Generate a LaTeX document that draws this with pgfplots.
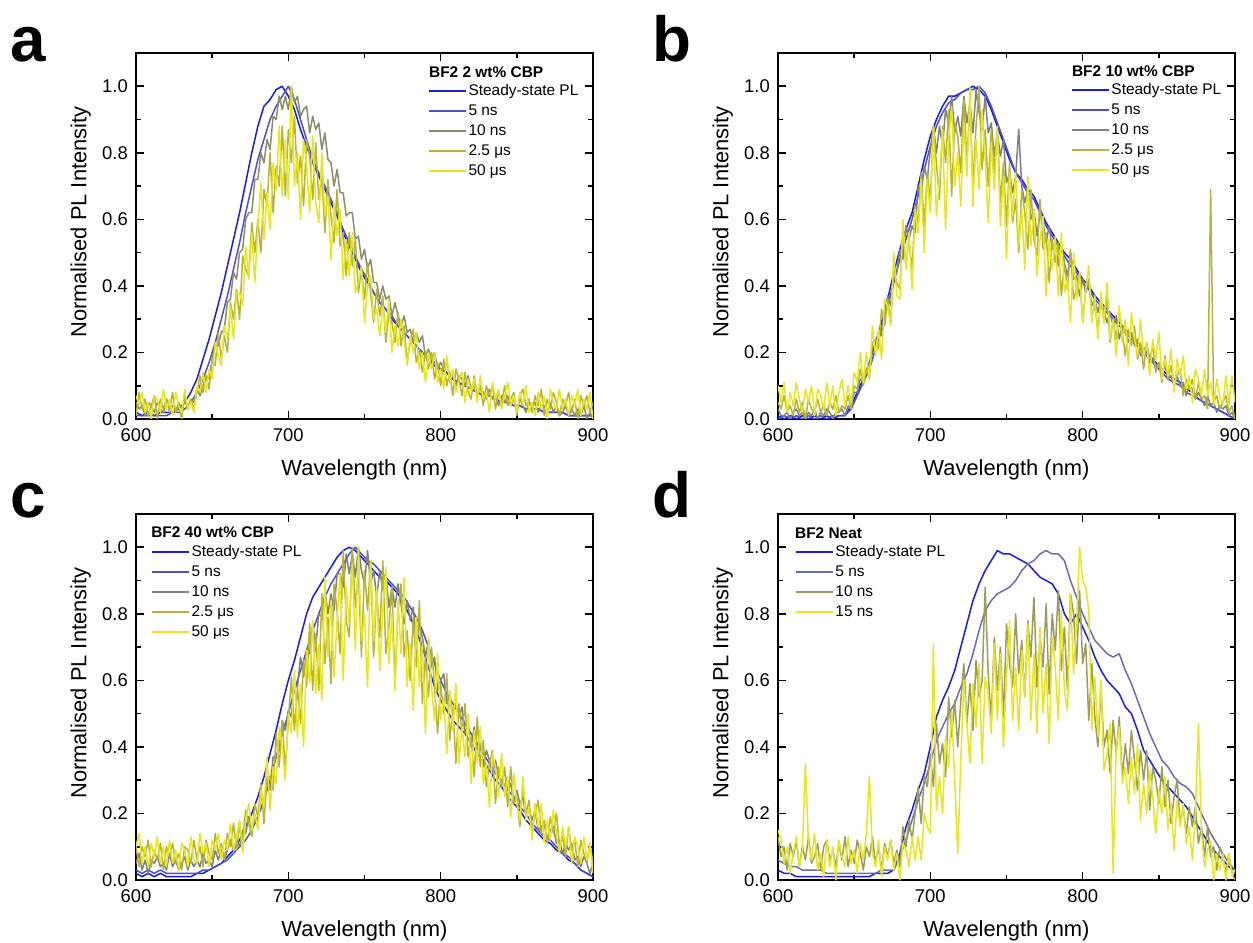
\documentclass[border=0pt]{standalone}
\usepackage{fontspec}
\setmainfont{Liberation Sans}
\usepackage{pgfplots}
\usepackage{pgfplotstable}
\pgfplotsset{compat=1.18}

\definecolor{cSS}{RGB}{25,25,240}
\definecolor{cNfive}{RGB}{78,78,205}
\definecolor{cNfiveD}{RGB}{108,108,172}
\definecolor{cTenA}{RGB}{140,140,108}
\definecolor{cTenB}{RGB}{128,128,128}
\definecolor{cTenD}{RGB}{155,155,98}
\definecolor{cUtwo}{RGB}{182,178,62}
\definecolor{cUfifty}{RGB}{232,230,30}

% ===== Panel a: smooth series =====
\pgfplotstableread{
x ss n5
600 0.02 0.01
604 0.01 0.01
608 0.02 0.01
612 0.01 0.01
616 0.02 0.01
620 0.02 0.01
624 0.02 0.02
628 0.03 0.02
632 0.05 0.03
636 0.08 0.05
640 0.12 0.08
644 0.18 0.12
648 0.24 0.17
652 0.31 0.23
656 0.38 0.30
660 0.46 0.37
664 0.54 0.45
668 0.62 0.53
672 0.71 0.62
676 0.80 0.70
680 0.88 0.78
684 0.94 0.84
688 0.96 0.90
692 0.99 0.94
696 1.00 0.97
700 0.97 1.00
704 0.93 0.96
708 0.87 0.90
712 0.82 0.84
716 0.77 0.78
720 0.73 0.74
724 0.69 0.70
728 0.65 0.66
732 0.61 0.62
736 0.56 0.57
740 0.52 0.53
744 0.48 0.49
748 0.44 0.45
752 0.41 0.42
756 0.38 0.38
760 0.35 0.35
764 0.33 0.33
768 0.30 0.31
772 0.28 0.28
776 0.26 0.26
780 0.24 0.24
784 0.22 0.22
788 0.20 0.20
792 0.18 0.18
796 0.16 0.17
800 0.15 0.15
804 0.14 0.14
808 0.12 0.12
812 0.11 0.11
816 0.10 0.10
820 0.09 0.09
824 0.08 0.08
828 0.07 0.07
832 0.07 0.07
836 0.06 0.06
840 0.05 0.05
844 0.05 0.05
848 0.04 0.04
852 0.04 0.04
856 0.03 0.03
860 0.03 0.03
864 0.03 0.03
868 0.02 0.02
872 0.02 0.02
876 0.02 0.02
880 0.02 0.02
884 0.01 0.01
888 0.01 0.01
892 0.01 0.01
896 0.01 0.01
900 0.01 0.01
}\smoothA

% ===== Panel a: noisy series =====
\pgfplotstableread{
x n10 u25 u50
600 0.05 0.01 0.07
602 0.03 0.08 0.04
604 0.04 0.03 0.08
606 0.01 0.06 0.02
608 0.05 0.01 0.05
610 0.04 0.04 0.00
612 0.02 0.07 0.07
614 0.05 0.00 0.06
616 0.03 0.06 0.02
618 0.02 0.03 0.09
620 0.06 0.06 0.03
622 0.03 0.02 0.06
624 0.04 0.08 0.01
626 0.02 0.02 0.08
628 0.05 0.04 0.04
630 0.03 0.00 0.02
632 0.06 0.07 0.09
634 0.03 0.03 0.03
636 0.06 0.06 0.05
638 0.05 0.03 0.02
640 0.09 0.08 0.10
642 0.07 0.13 0.08
644 0.10 0.08 0.14
646 0.13 0.13 0.08
648 0.12 0.09 0.15
650 0.18 0.18 0.12
652 0.22 0.16 0.23
654 0.22 0.26 0.19
656 0.26 0.18 0.16
658 0.27 0.25 0.28
660 0.35 0.20 0.24
662 0.36 0.35 0.34
664 0.44 0.30 0.24
666 0.42 0.39 0.38
668 0.50 0.30 0.38
670 0.51 0.49 0.34
672 0.60 0.45 0.52
674 0.62 0.43 0.42
676 0.62 0.59 0.56
678 0.72 0.50 0.41
680 0.72 0.60 0.58
682 0.80 0.50 0.71
684 0.77 0.69 0.54
686 0.84 0.64 0.68
688 0.81 0.80 0.57
690 0.91 0.62 0.77
692 0.90 0.76 0.69
694 0.97 0.70 0.88
696 0.93 0.88 0.67
698 0.97 0.67 0.84
700 0.93 0.87 0.66
702 1.00 0.77 1.00
704 0.95 0.91 0.70
706 0.97 0.71 0.80
708 0.91 0.79 0.60
710 0.93 0.64 0.84
712 0.94 0.84 0.76
714 0.86 0.79 0.62
716 0.91 0.66 0.85
718 0.87 0.83 0.65
720 0.89 0.66 0.59
722 0.81 0.73 0.80
724 0.86 0.56 0.61
726 0.78 0.72 0.67
728 0.77 0.61 0.48
730 0.70 0.53 0.65
732 0.75 0.69 0.55
734 0.68 0.52 0.63
736 0.68 0.56 0.42
738 0.61 0.43 0.54
740 0.62 0.56 0.43
742 0.62 0.46 0.56
744 0.54 0.54 0.38
746 0.55 0.38 0.41
748 0.48 0.45 0.46
750 0.51 0.36 0.29
752 0.45 0.47 0.40
754 0.48 0.38 0.43
756 0.41 0.29 0.30
758 0.41 0.39 0.33
760 0.36 0.31 0.25
762 0.40 0.37 0.34
764 0.36 0.23 0.26
766 0.37 0.32 0.36
768 0.31 0.29 0.20
770 0.35 0.23 0.28
772 0.31 0.32 0.22
774 0.28 0.22 0.30
776 0.31 0.28 0.24
778 0.26 0.17 0.16
780 0.27 0.23 0.25
782 0.23 0.27 0.20
784 0.26 0.17 0.26
786 0.23 0.21 0.15
788 0.25 0.14 0.20
790 0.19 0.20 0.11
792 0.21 0.15 0.20
794 0.18 0.20 0.15
796 0.20 0.12 0.20
798 0.15 0.17 0.11
800 0.17 0.10 0.15
802 0.15 0.18 0.09
804 0.17 0.10 0.19
806 0.13 0.14 0.11
808 0.13 0.07 0.15
810 0.10 0.15 0.08
812 0.13 0.12 0.12
814 0.12 0.07 0.14
816 0.10 0.14 0.05
818 0.13 0.08 0.12
820 0.09 0.06 0.08
822 0.10 0.13 0.12
824 0.07 0.07 0.05
826 0.10 0.10 0.13
828 0.08 0.04 0.06
830 0.06 0.10 0.08
832 0.09 0.07 0.02
834 0.06 0.10 0.11
836 0.07 0.03 0.06
838 0.04 0.08 0.09
840 0.07 0.05 0.03
842 0.05 0.10 0.07
844 0.07 0.04 0.11
846 0.04 0.06 0.04
848 0.06 0.08 0.07
850 0.03 0.01 0.02
852 0.06 0.07 0.08
854 0.04 0.09 0.04
856 0.02 0.04 0.10
858 0.05 0.06 0.02
860 0.03 0.02 0.05
862 0.05 0.07 0.01
864 0.02 0.04 0.08
866 0.04 0.09 0.03
868 0.04 0.01 0.07
870 0.02 0.06 0.00
872 0.05 0.03 0.09
874 0.02 0.08 0.05
876 0.04 0.05 0.03
878 0.01 0.01 0.09
880 0.02 0.06 0.03
882 0.04 0.04 0.06
884 0.01 0.08 0.01
886 0.03 0.02 0.07
888 0.01 0.06 0.04
890 0.03 0.00 0.09
892 0.01 0.07 0.01
894 0.04 0.04 0.06
896 0.00 0.07 0.03
898 0.02 0.02 0.08
900 0.00 0.05 0.00
}\noisyA

% ===== Panel b: smooth series =====
\pgfplotstableread{
x ss n5
600 0.01 0.00
604 0.00 0.01
608 0.01 0.00
612 0.00 0.01
616 0.01 0.00
620 0.00 0.01
624 0.01 0.00
628 0.00 0.01
632 0.01 0.00
636 0.00 0.01
640 0.01 0.01
644 0.01 0.01
648 0.04 0.03
652 0.08 0.07
656 0.12 0.11
660 0.17 0.15
664 0.23 0.21
668 0.29 0.27
672 0.36 0.34
676 0.44 0.41
680 0.51 0.48
684 0.57 0.54
688 0.62 0.60
692 0.70 0.67
696 0.78 0.75
700 0.85 0.82
704 0.90 0.88
708 0.94 0.92
712 0.97 0.95
716 0.97 0.96
720 0.98 0.98
724 0.99 0.99
728 1.00 0.99
732 0.99 1.00
736 0.97 0.98
740 0.93 0.94
744 0.88 0.89
748 0.83 0.84
752 0.78 0.79
756 0.74 0.74
760 0.72 0.71
764 0.69 0.68
768 0.67 0.66
772 0.63 0.62
776 0.59 0.58
780 0.56 0.55
784 0.53 0.52
788 0.50 0.49
792 0.48 0.46
796 0.45 0.44
800 0.42 0.41
804 0.40 0.39
808 0.37 0.36
812 0.35 0.34
816 0.33 0.32
820 0.31 0.30
824 0.29 0.28
828 0.27 0.26
832 0.25 0.24
836 0.23 0.22
840 0.21 0.20
844 0.19 0.18
848 0.17 0.16
852 0.15 0.14
856 0.13 0.12
860 0.12 0.11
864 0.11 0.10
868 0.09 0.08
872 0.08 0.07
876 0.06 0.06
880 0.05 0.05
884 0.04 0.04
888 0.03 0.03
892 0.02 0.02
896 0.01 0.01
900 0.00 0.00
}\smoothB

% ===== Panel b: noisy series =====
\pgfplotstableread{
x n10 u25 u50
600 0.03 0.05 0.10
602 0.01 0.03 0.05
604 0.01 0.07 0.11
606 0.02 0.02 0.02
608 0.00 0.04 0.08
610 0.02 0.01 0.04
612 0.03 0.06 0.11
614 0.01 0.02 0.06
616 0.02 0.05 0.02
618 0.00 0.00 0.09
620 0.02 0.06 0.05
622 0.01 0.03 0.10
624 0.03 0.02 0.01
626 0.00 0.06 0.09
628 0.02 0.02 0.07
630 0.01 0.04 0.03
632 0.03 0.01 0.11
634 0.02 0.05 0.04
636 0.00 0.03 0.10
638 0.02 0.07 0.01
640 0.02 0.02 0.08
642 0.03 0.04 0.12
644 0.01 0.03 0.04
646 0.04 0.07 0.10
648 0.03 0.03 0.05
650 0.08 0.10 0.14
652 0.08 0.09 0.11
654 0.12 0.15 0.20
656 0.11 0.10 0.11
658 0.15 0.15 0.20
660 0.15 0.12 0.12
662 0.22 0.23 0.28
664 0.21 0.24 0.19
666 0.26 0.21 0.27
668 0.25 0.33 0.18
670 0.31 0.28 0.36
672 0.37 0.36 0.34
674 0.34 0.29 0.28
676 0.43 0.45 0.50
678 0.44 0.41 0.37
680 0.51 0.39 0.36
682 0.48 0.57 0.60
684 0.58 0.46 0.45
686 0.54 0.54 0.56
688 0.58 0.44 0.39
690 0.56 0.64 0.63
692 0.70 0.58 0.56
694 0.67 0.74 0.72
696 0.76 0.58 0.50
698 0.72 0.74 0.72
700 0.81 0.66 0.62
702 0.88 0.88 0.88
704 0.80 0.77 0.61
706 0.88 0.66 0.72
708 0.82 0.88 0.87
710 0.93 0.77 0.57
712 0.89 0.93 0.84
714 0.97 0.67 0.94
716 0.86 0.89 0.70
718 0.91 0.85 0.80
720 0.85 0.74 0.64
722 0.97 0.96 0.89
724 0.89 0.78 0.73
726 0.95 0.94 1.00
728 0.86 0.71 0.64
730 0.99 0.88 0.84
732 0.92 1.00 0.69
734 0.87 0.75 0.93
736 0.97 0.87 0.78
738 0.86 0.70 0.59
740 0.89 0.87 0.83
742 0.79 0.74 0.69
744 0.86 0.88 0.88
746 0.79 0.65 0.58
748 0.84 0.77 0.73
750 0.71 0.58 0.48
752 0.74 0.77 0.74
754 0.68 0.59 0.61
756 0.73 0.66 0.74
758 0.87 0.50 0.52
760 0.70 0.69 0.63
762 0.65 0.62 0.45
764 0.69 0.51 0.73
766 0.60 0.69 0.52
768 0.63 0.54 0.63
770 0.55 0.49 0.43
772 0.62 0.66 0.54
774 0.59 0.51 0.61
776 0.53 0.56 0.37
778 0.58 0.41 0.54
780 0.51 0.54 0.45
782 0.53 0.47 0.55
784 0.46 0.53 0.37
786 0.52 0.37 0.56
788 0.47 0.47 0.38
790 0.43 0.39 0.42
792 0.50 0.51 0.29
794 0.42 0.36 0.50
796 0.43 0.39 0.36
798 0.37 0.44 0.44
800 0.42 0.29 0.29
802 0.38 0.39 0.39
804 0.41 0.42 0.46
806 0.34 0.31 0.29
808 0.36 0.34 0.37
810 0.32 0.27 0.24
812 0.36 0.36 0.38
814 0.32 0.29 0.29
816 0.29 0.37 0.41
818 0.32 0.23 0.24
820 0.28 0.30 0.30
822 0.31 0.24 0.19
824 0.24 0.32 0.34
826 0.28 0.26 0.23
828 0.26 0.19 0.30
830 0.23 0.27 0.16
832 0.26 0.22 0.32
834 0.22 0.28 0.24
836 0.24 0.18 0.19
838 0.19 0.23 0.30
840 0.21 0.15 0.19
842 0.22 0.23 0.23
844 0.17 0.18 0.13
846 0.18 0.22 0.24
848 0.15 0.14 0.18
850 0.17 0.17 0.26
852 0.14 0.11 0.12
854 0.16 0.19 0.18
856 0.12 0.12 0.13
858 0.13 0.16 0.21
860 0.10 0.10 0.08
862 0.13 0.13 0.18
864 0.10 0.15 0.13
866 0.11 0.07 0.19
868 0.07 0.12 0.09
870 0.10 0.09 0.13
872 0.09 0.12 0.05
874 0.06 0.06 0.15
876 0.08 0.11 0.12
878 0.06 0.06 0.07
880 0.04 0.07 0.15
882 0.07 0.03 0.07
884 0.04 0.69 0.11
886 0.05 0.05 0.04
888 0.02 0.07 0.12
890 0.04 0.03 0.07
892 0.03 0.05 0.04
894 0.04 0.07 0.13
896 0.01 0.02 0.04
898 0.02 0.04 0.13
900 0.00 0.00 0.05
}\noisyB

% ===== Panel c: smooth series =====
\pgfplotstableread{
x ss n5
600 0.02 0.03
604 0.01 0.02
608 0.02 0.03
612 0.01 0.02
616 0.02 0.03
620 0.01 0.02
624 0.01 0.02
628 0.01 0.02
632 0.01 0.02
636 0.01 0.02
640 0.02 0.02
644 0.02 0.03
648 0.03 0.03
652 0.04 0.04
656 0.05 0.05
660 0.07 0.06
664 0.09 0.08
668 0.12 0.10
672 0.16 0.12
676 0.20 0.15
680 0.25 0.19
684 0.31 0.24
688 0.38 0.30
692 0.45 0.37
696 0.53 0.44
700 0.60 0.50
704 0.66 0.57
708 0.73 0.63
712 0.80 0.69
716 0.85 0.75
720 0.88 0.80
724 0.91 0.85
728 0.94 0.89
732 0.97 0.92
736 0.99 0.95
740 1.00 0.98
744 0.99 1.00
748 0.97 0.98
752 0.95 0.96
756 0.93 0.95
760 0.91 0.93
764 0.90 0.91
768 0.88 0.89
772 0.86 0.87
776 0.83 0.85
780 0.79 0.82
784 0.75 0.79
788 0.70 0.75
792 0.64 0.70
796 0.58 0.65
800 0.54 0.60
804 0.51 0.56
808 0.48 0.53
812 0.46 0.50
816 0.44 0.47
820 0.41 0.44
824 0.38 0.41
828 0.36 0.38
832 0.33 0.35
836 0.30 0.32
840 0.28 0.30
844 0.25 0.27
848 0.23 0.25
852 0.21 0.22
856 0.18 0.20
860 0.16 0.17
864 0.14 0.15
868 0.12 0.13
872 0.11 0.12
876 0.09 0.10
880 0.08 0.08
884 0.06 0.07
888 0.05 0.05
892 0.03 0.03
896 0.02 0.02
900 0.01 0.01
}\smoothC

% ===== Panel c: noisy series =====
\pgfplotstableread{
x n10 u25 u50
600 0.05 0.10 0.10
602 0.08 0.04 0.14
604 0.03 0.10 0.05
606 0.06 0.07 0.10
608 0.02 0.12 0.04
610 0.06 0.04 0.11
612 0.05 0.09 0.07
614 0.07 0.06 0.13
616 0.04 0.11 0.05
618 0.05 0.03 0.10
620 0.03 0.10 0.04
622 0.08 0.07 0.12
624 0.04 0.11 0.05
626 0.06 0.05 0.09
628 0.03 0.08 0.03
630 0.05 0.03 0.11
632 0.07 0.10 0.09
634 0.03 0.09 0.04
636 0.06 0.05 0.13
638 0.04 0.12 0.06
640 0.06 0.06 0.05
642 0.04 0.10 0.14
644 0.08 0.04 0.08
646 0.05 0.12 0.11
648 0.06 0.08 0.04
650 0.04 0.06 0.12
652 0.09 0.14 0.09
654 0.06 0.08 0.14
656 0.09 0.11 0.06
658 0.06 0.06 0.12
660 0.09 0.14 0.09
662 0.12 0.10 0.17
664 0.09 0.17 0.09
666 0.12 0.09 0.13
668 0.10 0.16 0.18
670 0.15 0.12 0.08
672 0.14 0.21 0.18
674 0.19 0.17 0.23
676 0.15 0.13 0.15
678 0.19 0.23 0.20
680 0.18 0.19 0.15
682 0.25 0.29 0.27
684 0.24 0.17 0.22
686 0.30 0.31 0.37
688 0.27 0.31 0.21
690 0.37 0.27 0.34
692 0.37 0.44 0.29
694 0.39 0.34 0.46
696 0.48 0.48 0.40
698 0.45 0.33 0.30
700 0.51 0.48 0.50
702 0.49 0.61 0.44
704 0.59 0.45 0.63
706 0.58 0.58 0.43
708 0.67 0.47 0.59
710 0.61 0.66 0.40
712 0.68 0.58 0.69
714 0.68 0.77 0.59
716 0.77 0.57 0.78
718 0.70 0.74 0.56
720 0.80 0.57 0.71
722 0.79 0.86 0.54
724 0.87 0.65 0.91
726 0.80 0.79 0.67
728 0.86 0.59 0.84
730 0.81 0.89 0.61
732 0.92 0.81 0.78
734 0.92 0.68 0.92
736 0.88 0.99 0.60
738 0.98 0.78 0.88
740 0.92 0.73 0.77
742 0.98 1.00 0.95
744 0.91 0.82 0.69
746 1.00 0.93 1.00
748 0.93 0.67 0.72
750 0.89 0.93 0.80
752 0.99 0.81 0.58
754 0.89 0.96 0.96
756 0.93 0.67 0.72
758 0.85 0.87 0.88
760 0.93 0.73 0.63
762 0.87 0.96 0.81
764 0.92 0.68 0.94
766 0.82 0.76 0.65
768 0.88 0.88 0.80
770 0.82 0.59 0.57
772 0.89 0.81 0.84
774 0.83 0.89 0.68
776 0.77 0.67 0.91
778 0.84 0.75 0.58
780 0.78 0.60 0.71
782 0.82 0.79 0.51
784 0.71 0.64 0.79
786 0.77 0.84 0.58
788 0.73 0.53 0.71
790 0.67 0.67 0.44
792 0.72 0.55 0.73
794 0.64 0.70 0.58
796 0.67 0.58 0.48
798 0.57 0.44 0.68
800 0.60 0.59 0.48
802 0.62 0.50 0.55
804 0.53 0.62 0.38
806 0.55 0.42 0.57
808 0.49 0.52 0.45
810 0.53 0.35 0.59
812 0.49 0.53 0.35
814 0.52 0.44 0.46
816 0.44 0.53 0.37
818 0.47 0.37 0.50
820 0.40 0.43 0.29
822 0.46 0.31 0.45
824 0.39 0.49 0.35
826 0.41 0.34 0.46
828 0.34 0.42 0.29
830 0.39 0.28 0.35
832 0.36 0.35 0.22
834 0.32 0.39 0.38
836 0.36 0.23 0.34
838 0.31 0.34 0.25
840 0.29 0.28 0.38
842 0.33 0.34 0.25
844 0.27 0.22 0.31
846 0.29 0.34 0.19
848 0.23 0.23 0.32
850 0.27 0.25 0.23
852 0.23 0.16 0.18
854 0.25 0.29 0.31
856 0.19 0.20 0.18
858 0.21 0.24 0.22
860 0.18 0.15 0.12
862 0.21 0.20 0.23
864 0.15 0.24 0.16
866 0.16 0.14 0.23
868 0.17 0.18 0.11
870 0.12 0.11 0.18
872 0.15 0.19 0.12
874 0.16 0.14 0.21
876 0.11 0.20 0.14
878 0.12 0.10 0.08
880 0.08 0.13 0.16
882 0.11 0.07 0.10
884 0.09 0.16 0.16
886 0.11 0.09 0.05
888 0.06 0.12 0.13
890 0.07 0.04 0.10
892 0.04 0.12 0.05
894 0.07 0.08 0.13
896 0.05 0.05 0.06
898 0.02 0.11 0.11
900 0.05 0.05 0.02
}\noisyC

% ===== Panel d: smooth series =====
\pgfplotstableread{
x ss n5
600 0.03 0.06
604 0.02 0.05
608 0.02 0.04
612 0.01 0.04
616 0.01 0.03
620 0.01 0.03
624 0.01 0.03
628 0.01 0.03
632 0.01 0.02
636 0.01 0.02
640 0.01 0.02
644 0.01 0.02
648 0.01 0.02
652 0.01 0.02
656 0.01 0.02
660 0.01 0.02
664 0.02 0.02
668 0.02 0.03
672 0.02 0.03
676 0.03 0.03
680 0.08 0.07
684 0.16 0.12
688 0.21 0.18
692 0.27 0.24
696 0.32 0.29
700 0.40 0.35
704 0.49 0.42
708 0.54 0.46
712 0.58 0.50
716 0.63 0.53
720 0.70 0.58
724 0.77 0.62
728 0.84 0.68
732 0.89 0.75
736 0.93 0.81
740 0.96 0.84
744 0.99 0.86
748 0.98 0.87
752 0.98 0.88
756 0.97 0.90
760 0.96 0.93
764 0.95 0.95
768 0.93 0.96
772 0.91 0.98
776 0.90 0.99
780 0.89 0.98
784 0.86 0.98
788 0.80 0.96
792 0.77 0.90
796 0.80 0.85
800 0.76 0.80
804 0.72 0.76
808 0.67 0.72
812 0.63 0.70
816 0.60 0.68
820 0.58 0.67
824 0.56 0.68
828 0.52 0.63
832 0.50 0.59
836 0.45 0.54
840 0.39 0.49
844 0.36 0.44
848 0.33 0.40
852 0.30 0.36
856 0.28 0.34
860 0.26 0.31
864 0.24 0.29
868 0.22 0.28
872 0.19 0.26
876 0.16 0.22
880 0.13 0.18
884 0.10 0.14
888 0.08 0.11
892 0.06 0.08
896 0.04 0.05
900 0.03 0.03
}\smoothD

% ===== Panel d: noisy series =====
\pgfplotstableread{
x n10 u15
600 0.13 0.15
602 0.07 0.12
604 0.10 0.05
606 0.03 0.10
608 0.11 0.02
610 0.07 0.08
612 0.12 0.13
614 0.04 0.04
616 0.10 0.09
618 0.06 0.35
620 0.13 0.11
622 0.05 0.06
624 0.07 0.14
626 0.11 0.03
628 0.03 0.08
630 0.10 0.01
632 0.12 0.12
634 0.06 0.04
636 0.09 0.10
638 0.04 0.00
640 0.11 0.12
642 0.06 0.07
644 0.13 0.04
646 0.04 0.13
648 0.09 0.05
650 0.05 0.09
652 0.12 0.02
654 0.08 0.11
656 0.03 0.06
658 0.10 0.14
660 0.07 0.31
662 0.13 0.08
664 0.05 0.04
666 0.10 0.12
668 0.03 0.01
670 0.11 0.10
672 0.07 0.06
674 0.12 0.12
676 0.05 0.03
678 0.09 0.08
680 0.04 0.00
682 0.16 0.11
684 0.10 0.09
686 0.18 0.04
688 0.12 0.13
690 0.20 0.06
692 0.28 0.13
694 0.17 0.06
696 0.31 0.20
698 0.28 0.16
700 0.38 0.14
702 0.28 0.71
704 0.47 0.21
706 0.35 0.31
708 0.41 0.20
710 0.31 0.43
712 0.55 0.34
714 0.43 0.51
716 0.54 0.30
718 0.40 0.08
720 0.54 0.36
722 0.65 0.60
724 0.47 0.47
726 0.59 0.35
728 0.45 0.59
730 0.66 0.46
732 0.55 0.65
734 0.60 0.35
736 0.88 0.61
738 0.62 0.56
740 0.48 0.44
742 0.73 0.71
744 0.57 0.48
746 0.70 0.68
748 0.49 0.40
750 0.77 0.61
752 0.65 0.78
754 0.58 0.48
756 0.80 0.64
758 0.62 0.45
760 0.72 0.69
762 0.55 0.55
764 0.78 0.77
766 0.67 0.48
768 0.85 0.68
770 0.58 0.44
772 0.73 0.76
774 0.64 0.50
776 0.83 0.65
778 0.56 0.41
780 0.80 0.73
782 0.69 0.64
784 0.87 0.48
786 0.63 0.81
788 0.76 0.57
790 0.57 0.51
792 0.86 0.86
794 0.80 0.62
796 0.65 0.77
798 0.87 1.00
800 0.65 0.90
802 0.71 0.88
804 0.48 0.81
806 0.65 0.45
808 0.49 0.61
810 0.40 0.43
812 0.58 0.60
814 0.40 0.33
816 0.45 0.38
818 0.32 0.47
820 0.48 0.02
822 0.38 0.40
824 0.49 0.46
826 0.31 0.29
828 0.41 0.34
830 0.32 0.23
832 0.45 0.37
834 0.36 0.26
836 0.27 0.41
838 0.39 0.18
840 0.30 0.29
842 0.39 0.20
844 0.21 0.33
846 0.34 0.25
848 0.30 0.14
850 0.23 0.27
852 0.34 0.20
854 0.22 0.31
856 0.30 0.15
858 0.17 0.23
860 0.25 0.09
862 0.30 0.24
864 0.17 0.16
866 0.22 0.23
868 0.14 0.11
870 0.22 0.16
872 0.16 0.06
874 0.22 0.20
876 0.11 0.47
878 0.16 0.14
880 0.07 0.04
882 0.16 0.09
884 0.07 0.12
886 0.10 0.00
888 0.03 0.08
890 0.10 0.03
892 0.07 0.08
894 0.02 0.00
896 0.08 0.08
898 0.02 0.01
900 0.00 0.03
}\noisyD

\pgfplotsset{
  panel/.style={
    scale only axis, width=457bp, height=366bp,
    anchor=south west,
    xmin=600, xmax=900, ymin=0, ymax=1.1,
    xtick={600,700,800,900}, minor x tick num=1,
    ytick={0,0.2,0.4,0.6,0.8,1.0}, minor y tick num=1,
    tick align=inside,
    major tick length=8bp, minor tick length=5bp,
    every tick/.style={black, line width=1.6bp},
    axis line style={line width=2bp},
    /pgf/number format/assume math mode=true,
    tick label style={font=\fontsize{18.5}{22}\selectfont, inner sep=0pt},
    xticklabel style={yshift=-9bp},
    yticklabel style={xshift=-8bp, /pgf/number format/fixed, /pgf/number format/fixed zerofill, /pgf/number format/precision=1},
    label style={font=\fontsize{22}{26}\selectfont},
    xlabel={Wavelength (nm)},
    ylabel={Normalised PL Intensity},
    xlabel style={at={(axis description cs:0.5,-0.139)}, anchor=center},
    ylabel style={at={(axis description cs:-0.121,0.538)}, anchor=center},
    every axis plot/.append style={line width=1.5bp, line join=round},
    legend cell align=left,
    legend image code/.code={\draw[##1, line width=1.5bp] (0bp,0bp) -- (37bp,0bp);},
    legend style={draw=none, fill=none, inner sep=0pt, outer sep=0pt,
      row sep=6bp, column sep=2bp, font=\fontsize{15.5}{18}\selectfont,
      nodes={inner sep=0pt, text height=11bp, text depth=3bp}},
  },
}
\tikzset{ptitle/.style={anchor=west, inner sep=0pt, font=\bfseries\fontsize{15.5}{18}\selectfont}}

\begin{document}
\begin{tikzpicture}
\useasboundingbox (0,0) rectangle (1253bp,943bp);

% ---- panel a ----
\begin{axis}[panel, at={(136bp,524bp)},
  legend style={at={(0.639,0.915)}, anchor=north west}]
\addplot[cSS] table[x=x,y=ss] {\smoothA};
\addplot[cNfive] table[x=x,y=n5] {\smoothA};
\addplot[cTenA] table[x=x,y=n10] {\noisyA};
\addplot[cUtwo] table[x=x,y=u25] {\noisyA};
\addplot[cUfifty] table[x=x,y=u50] {\noisyA};
\legend{Steady-state PL, 5 ns, 10 ns, 2.5 μs, 50 μs}
\node[ptitle] at (rel axis cs:0.641,0.948) {BF2 2 wt\% CBP};
\end{axis}

% ---- panel b ----
\begin{axis}[panel, at={(778bp,524bp)},
  legend style={at={(0.641,0.918)}, anchor=north west}]
\addplot[cSS] table[x=x,y=ss] {\smoothB};
\addplot[cNfive] table[x=x,y=n5] {\smoothB};
\addplot[cTenB] table[x=x,y=n10] {\noisyB};
\addplot[cUtwo] table[x=x,y=u25] {\noisyB};
\addplot[cUfifty] table[x=x,y=u50] {\noisyB};
\legend{Steady-state PL, 5 ns, 10 ns, 2.5 μs, 50 μs}
\node[ptitle] at (rel axis cs:0.643,0.951) {BF2 10 wt\% CBP};
\end{axis}

% ---- panel c ----
\begin{axis}[panel, at={(136bp,63bp)},
  legend style={at={(0.033,0.915)}, anchor=north west}]
\addplot[cSS] table[x=x,y=ss] {\smoothC};
\addplot[cNfive] table[x=x,y=n5] {\smoothC};
\addplot[cTenB] table[x=x,y=n10] {\noisyC};
\addplot[cUtwo] table[x=x,y=u25] {\noisyC};
\addplot[cUfifty] table[x=x,y=u50] {\noisyC};
\legend{Steady-state PL, 5 ns, 10 ns, 2.5 μs, 50 μs}
\node[ptitle] at (rel axis cs:0.033,0.951) {BF2 40 wt\% CBP};
\end{axis}

% ---- panel d ----
\begin{axis}[panel, at={(778bp,63bp)},
  legend style={at={(0.037,0.915)}, anchor=north west}]
\addplot[cSS] table[x=x,y=ss] {\smoothD};
\addplot[cNfiveD] table[x=x,y=n5] {\smoothD};
\addplot[cTenD] table[x=x,y=n10] {\noisyD};
\addplot[cUfifty] table[x=x,y=u15] {\noisyD};
\legend{Steady-state PL, 5 ns, 10 ns, 15 ns}
\node[ptitle] at (rel axis cs:0.037,0.948) {BF2 Neat};
\end{axis}

% panel letters
\node[anchor=base west, inner sep=0pt, font=\bfseries\fontsize{64}{70}\selectfont] at (10bp,881bp) {a};
\node[anchor=base west, inner sep=0pt, font=\bfseries\fontsize{64}{70}\selectfont] at (652bp,881bp) {b};
\node[anchor=base west, inner sep=0pt, font=\bfseries\fontsize{64}{70}\selectfont] at (10bp,425bp) {c};
\node[anchor=base west, inner sep=0pt, font=\bfseries\fontsize{64}{70}\selectfont] at (652bp,425bp) {d};
\end{tikzpicture}
\end{document}
